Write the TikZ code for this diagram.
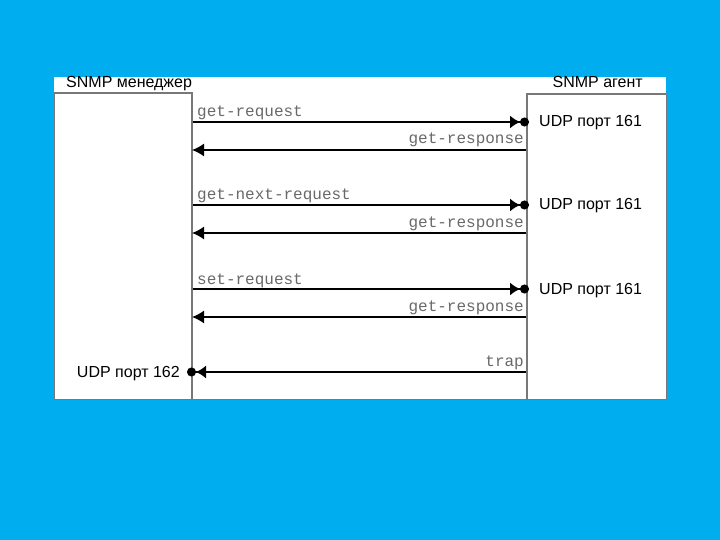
\documentclass[tikz,border=0pt]{standalone}
\usepackage{fontspec}
\setmainfont{Liberation Sans}
\newfontfamily\msgfont{Liberation Mono}
\usepackage{tikz}
\usetikzlibrary{arrows.meta}

\definecolor{slideblue}{RGB}{0,174,239}
\definecolor{msggray}{RGB}{105,105,105}
\definecolor{linegray}{RGB}{120,120,120}

\tikzset{
  hdr/.style={font=\fontsize{16}{17}\selectfont,inner sep=0pt},
  port/.style={font=\fontsize{16}{17}\selectfont,inner sep=0pt},
  msg/.style={font=\msgfont\fontsize{16}{17}\selectfont,text=msggray,inner sep=0pt},
  lifeline/.style={draw=linegray,line width=2pt},
  req/.style={line width=1.4pt,-{Latex[length=10pt,width=13pt] Circle[length=9pt]}},
  resp/.style={line width=1.4pt,-{Latex[length=12pt,width=13pt]}},
}

\begin{document}
\begin{tikzpicture}[x=1pt,y=-1pt]
  \fill[slideblue] (0,0) rectangle (720,540);
  \useasboundingbox (0,0) rectangle (720,540);

  % panel
  \fill[white] (54,77) rectangle (666,399);
  \draw[linegray,line width=0.6pt] (54,93) -- (54,399) -- (666,399) -- (666,94);

  \node[hdr,anchor=base west] (mgr) at (66,88) {SNMP менеджер};
  \node[hdr,anchor=base east] (agt) at (643,88) {SNMP агент};

  % lifelines
  \coordinate (mtop) at (54,93);
  \coordinate (mcor) at (192,93);
  \coordinate (mbot) at (192,399);
  \coordinate (atop) at (666,94);
  \coordinate (acor) at (527,94);
  \coordinate (abot) at (527,399);
  \draw[lifeline] (mtop) -- (mcor) -- (mbot);
  \draw[lifeline] (atop) -- (acor) -- (abot);

  % request / response pairs
  \foreach \y/\txt in {122/get-request,205/get-next-request,289/set-request}{
    \pgfmathtruncatemacro{\r}{\y+28}
    \coordinate (m\y) at (193,\y);
    \coordinate (a\y) at (529,\y);
    \coordinate (m\r) at (192,\r);
    \coordinate (a\r) at (526,\r);
    \draw[req] (m\y) -- (a\y);
    \node[msg,anchor=base west] (q\y) at (197,\y-5) {\txt};
    \node[port,anchor=base west] (p\y) at (539,\y+5) {UDP порт 161};
    \draw[resp] (a\r) -- (m\r);
    \node[msg,anchor=base east] (s\r) at (524,\r-6) {get-response};
  }

  % trap
  \coordinate (atrap) at (526,372);
  \coordinate (mtrap) at (187,372);
  \draw[req] (atrap) -- (mtrap);
  \node[msg,anchor=base east] (trap) at (524,366) {trap};
  \node[port,anchor=base east] (p162) at (180,377) {UDP порт 162};
\end{tikzpicture}
\end{document}
